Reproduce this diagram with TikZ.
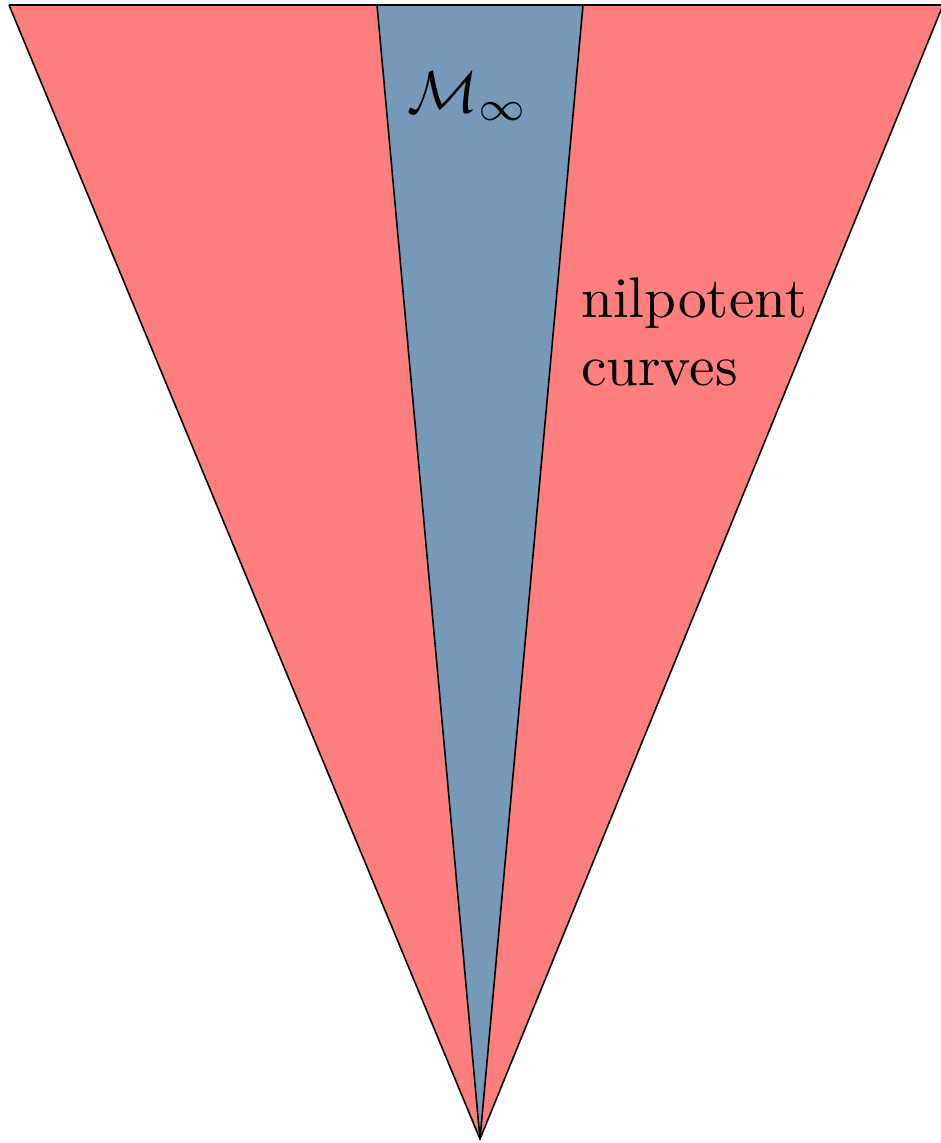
\documentclass[tikz,border=0pt]{standalone}
\definecolor{conered}{RGB}{255,127,127}
\definecolor{coneblue}{RGB}{119,153,186}
\begin{document}
\begin{tikzpicture}[x=1pt,y=-1pt,
  edge/.style={draw=black,line width=1.6pt,line join=round},
  lbl/.style={inner sep=0pt,transform shape,font=\fontsize{10}{11.7}\selectfont}]
\useasboundingbox (0,0) rectangle (941,1143);
\coordinate (tl) at (9,5);
\coordinate (tr) at (943,5);
\coordinate (bl) at (377,5);
\coordinate (br) at (583,5);
\coordinate (apex) at (480,1139);
\fill[conered] (tl) -- (tr) -- (apex) -- cycle;
\fill[coneblue] (bl) -- (br) -- (apex) -- cycle;
\draw[edge] (tl) -- (tr);
\draw[edge] (tl) -- (apex) -- (tr);
\draw[edge] (bl) -- (apex) -- (br);
\node[lbl,scale=5.9,anchor=base west] (minf) at (406,112) {$\mathcal{M}_\infty$};
\node[lbl,scale=5.73,anchor=base west,align=left] (nil) at (580,385) {nilpotent\\curves};
\end{tikzpicture}
\end{document}
